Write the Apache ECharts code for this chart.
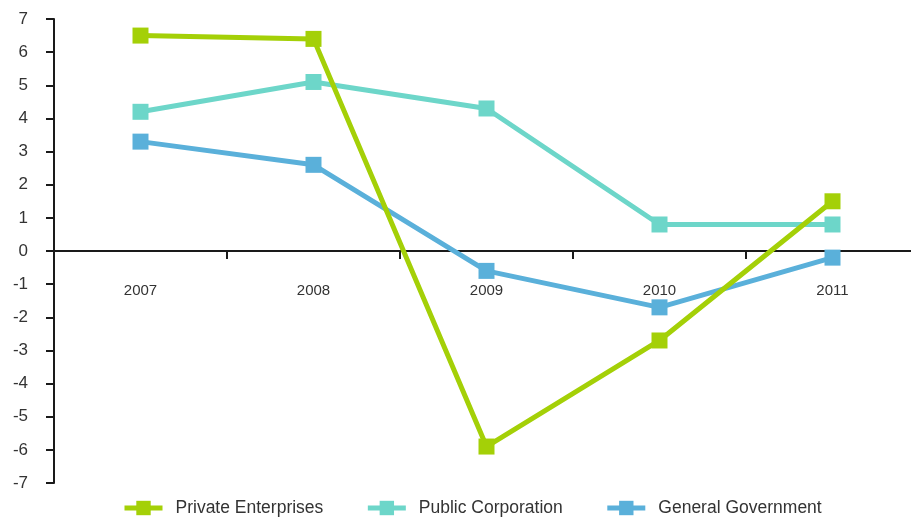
<!DOCTYPE html>
<html>
<head>
<meta charset="utf-8">
<script src="https://cdn.jsdelivr.net/npm/echarts@6/dist/echarts.min.js"></script>
<style>
  html, body { margin: 0; padding: 0; background: #fff; overflow: hidden; }
  /* the plot runs slightly past the right edge of the window */
  #chart { width: 919px; height: 519px; }
</style>
</head>
<body>
<div id="chart"></div>
<script>
// Annual growth by sector, 2007-2011
const years = ['2007', '2008', '2009', '2010', '2011'];
const privateEnterprises = [6.5, 6.4, -5.9, -2.7, 1.5];
const publicCorporation = [4.2, 5.1, 4.3, 0.8, 0.8];
const generalGovernment = [3.3, 2.6, -0.6, -1.7, -0.2];
const yTicks = { min: -7, max: 7, interval: 1 };

const FONT = '"Liberation Sans", Arial, sans-serif';
const GRID = { left: 54, right: 0, top: 19, bottom: 36 };

const el = document.getElementById('chart');
const chart = echarts.init(el, null, { renderer: 'canvas' });

// place the category axis (line, ticks and labels) on the zero line
const plotHeight = el.clientHeight - GRID.top - GRID.bottom;
const zeroOffset = -plotHeight * (0 - yTicks.min) / (yTicks.max - yTicks.min);

function lineSeries(name, data, color, z) {
  return {
    name: name,
    type: 'line',
    data: data,
    symbol: 'rect',
    symbolSize: 16,
    z: z,
    lineStyle: { color: color, width: 5 },
    itemStyle: { color: color },
    emphasis: { disabled: true },
    animation: false
  };
}

chart.setOption({
  animation: false,
  grid: Object.assign({ containLabel: false, outerBoundsMode: 'none' }, GRID),
  legend: {
    top: 494,
    left: 117,
    itemWidth: 38,
    itemHeight: 18,
    itemGap: 42,
    lineStyle: { width: 5 },
    textStyle: { fontFamily: FONT, fontSize: 17.5, color: '#333', padding: [0, 0, 0, 8] },
    data: ['Private Enterprises', 'Public Corporation', 'General Government']
  },
  xAxis: {
    type: 'category',
    data: years,
    boundaryGap: true,
    offset: zeroOffset,
    axisLine: { onZero: false, lineStyle: { color: '#1a1a1a', width: 2 } },
    axisTick: { show: true, inside: false, length: 8, lineStyle: { color: '#1a1a1a', width: 2 } },
    axisLabel: { margin: 32, fontFamily: FONT, fontSize: 15, color: '#333' },
    splitLine: { show: false },
    z: 1
  },
  yAxis: {
    type: 'value',
    min: yTicks.min,
    max: yTicks.max,
    interval: yTicks.interval,
    axisLine: { show: true, lineStyle: { color: '#1a1a1a', width: 2 } },
    axisTick: { show: true, length: 8, lineStyle: { color: '#1a1a1a', width: 2 } },
    axisLabel: { margin: 26, fontFamily: FONT, fontSize: 17, color: '#333' },
    splitLine: { show: false },
    z: 1
  },
  series: [
    lineSeries('General Government', generalGovernment, '#5ab0da', 3),
    lineSeries('Public Corporation', publicCorporation, '#6dd6c9', 4),
    lineSeries('Private Enterprises', privateEnterprises, '#a4d007', 5)
  ]
});
</script>
</body>
</html>
